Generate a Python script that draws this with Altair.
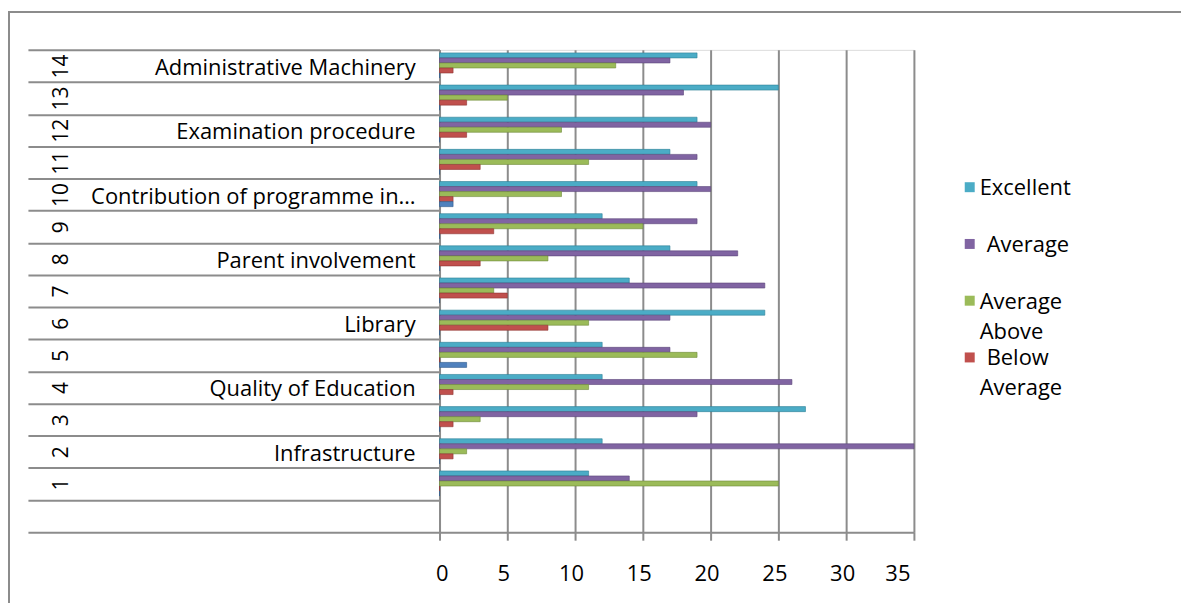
import altair as alt
import pandas as pd

# ---------------- data ----------------
categories = ["14", "13", "12", "11", "10", "9", "8", "7", "6", "5", "4", "3", "2", "1"]
row_domain = categories + [" "]
names = ["Administrative Machinery", "", "Examination procedure", "",
         "Contribution of programme in…", "", "Parent involvement", "",
         "Library", "", "Quality of Education", "", "Infrastructure", ""]

series = ["Excellent", "Average", "Above Average", "Below Average", "Series 5"]
excellent = [19, 25, 19, 17, 19, 12, 17, 14, 24, 12, 12, 27, 12, 11]
average = [17, 18, 20, 19, 20, 19, 22, 24, 17, 17, 26, 19, 35, 14]
above_average = [13, 5, 9, 11, 9, 15, 8, 4, 11, 19, 11, 3, 2, 25]
below_average = [1, 2, 2, 3, 1, 4, 3, 5, 8, 0, 1, 1, 1, 0]
series5 = [0, 0, 0, 0, 1, 0, 0, 0, 0, 2, 0, 0, 0, 0]

fill_colors = ["#4BACC6", "#8064A2", "#9BBB59", "#C0504D", "#4F81BD"]
edge_colors = ["#2E7F96", "#5A4478", "#6F8A3A", "#8E3432", "#2F5A8C"]

# legend entries (as drawn in the original, with its wrapped labels)
legend_series = ["Excellent", "Average", "Above Average", "Below Average"]
legend_line_series = ["Excellent", "Average", "Above Average", "Above Average",
                      "Below Average", "Below Average"]
legend_line_text = ["Excellent", "Average", "Average", "Above", "Below", "Average"]
legend_line_no = [0, 0, 0, 1, 0, 1]
legend_line_indent = [0, 1, 0, 0, 1, 0]
# empty slots that spread the legend rows over the plot height
legend_slots = ["_s0", "_s1"] + legend_series + ["_s6", "_s7", "_s8"]

x_ticks = [0, 5, 10, 15, 20, 25, 30, 35]

# ---------------- tables ----------------
values_by_series = [excellent, average, above_average, below_average, series5]
rows = []
for s, vals in zip(series, values_by_series):
    for c, v in zip(categories, vals):
        rows.append({"cat": c, "series": s, "value": v})
df = pd.DataFrame(rows)

names_df = pd.DataFrame({"cat": categories, "name": names})
legend_df = pd.DataFrame({"series": legend_series})
legend_lines_df = pd.DataFrame({"series": legend_line_series, "text": legend_line_text,
                                "line": legend_line_no, "indent": legend_line_indent})

FONT = "Open Sans"
GRAY = "#8c8c8c"

y_scale = alt.Scale(domain=row_domain, paddingInner=0, paddingOuter=0)

bars = alt.Chart(df).mark_bar(strokeWidth=0.6).encode(
    x=alt.X("value:Q",
            scale=alt.Scale(domain=[0, 35], nice=False, zero=True),
            axis=alt.Axis(values=x_ticks, title=None, grid=True, gridColor=GRAY, gridWidth=2,
                          domainColor=GRAY, domainWidth=2, tickColor=GRAY, tickWidth=2, tickSize=8,
                          labelPadding=23, labelFontSize=22, labelFont=FONT, labelColor="black",
                          labelOffset=-4, format="d")),
    y=alt.Y("cat:N", scale=y_scale,
            axis=alt.Axis(title=None, domainColor=GRAY, domainWidth=2, tickBand="extent",
                          tickSize=413, tickColor=GRAY, tickWidth=2, labelAngle=270,
                          labelAlign="center", labelBaseline="middle", labelPadding=-34,
                          labelFontSize=21, labelFont=FONT, labelColor="black", grid=False,
                          labelOverlap=False)),
    yOffset=alt.YOffset("series:N",
                        scale=alt.Scale(domain=series, paddingInner=0, paddingOuter=0.7, align=0.43)),
    color=alt.Color("series:N", scale=alt.Scale(domain=series, range=fill_colors), legend=None),
    stroke=alt.Stroke("series:N", scale=alt.Scale(domain=series, range=edge_colors), legend=None),
)

name_text = alt.Chart(names_df).mark_text(
    align="right", baseline="middle", dy=2, fontSize=22, font=FONT, color="black"
).encode(
    y=alt.Y("cat:N", scale=y_scale, axis=None),
    x=alt.value(-24),
    text="name:N",
)

leg_y = alt.Y("series:N",
              scale=alt.Scale(type="point", domain=legend_slots, padding=0.25, align=0.84),
              axis=None)

leg_sym = alt.Chart(legend_df).mark_square(size=100, opacity=1).encode(
    y=leg_y,
    x=alt.value(532),
    color=alt.Color("series:N", scale=alt.Scale(domain=series, range=fill_colors), legend=None),
)

leg_txt = alt.Chart(legend_lines_df).mark_text(
    align="left", baseline="middle", dy=1, fontSize=22, font=FONT, color="black"
).encode(
    y=leg_y,
    yOffset=alt.YOffset("line:Q", scale=alt.Scale(domain=[0, 1], range=[0, 30])),
    x=alt.value(542),
    xOffset=alt.XOffset("indent:Q", scale=alt.Scale(domain=[0, 1], range=[0, 7])),
    text="text:N",
)

frame_df = pd.DataFrame({"k": [0]})
frame_left = alt.Chart(frame_df).mark_rule(color=GRAY, strokeWidth=2).encode(
    x=alt.value(-432), y=alt.value(-38), y2=alt.value(600))
frame_top = alt.Chart(frame_df).mark_rule(color=GRAY, strokeWidth=2).encode(
    x=alt.value(-433), x2=alt.value(760), y=alt.value(-38))

chart = alt.layer(
    bars, name_text, leg_sym, leg_txt, frame_left, frame_top
).resolve_scale(
    y="independent", yOffset="independent", xOffset="independent"
).properties(
    width=476, height=484,
    autosize=alt.AutoSizeParams(type="none"),
    padding={"left": 433, "top": 41, "right": 268, "bottom": 70},
).configure_view(stroke=None).configure(background="white")

chart.save("out.html", embed_options={"renderer": "svg", "actions": False})
